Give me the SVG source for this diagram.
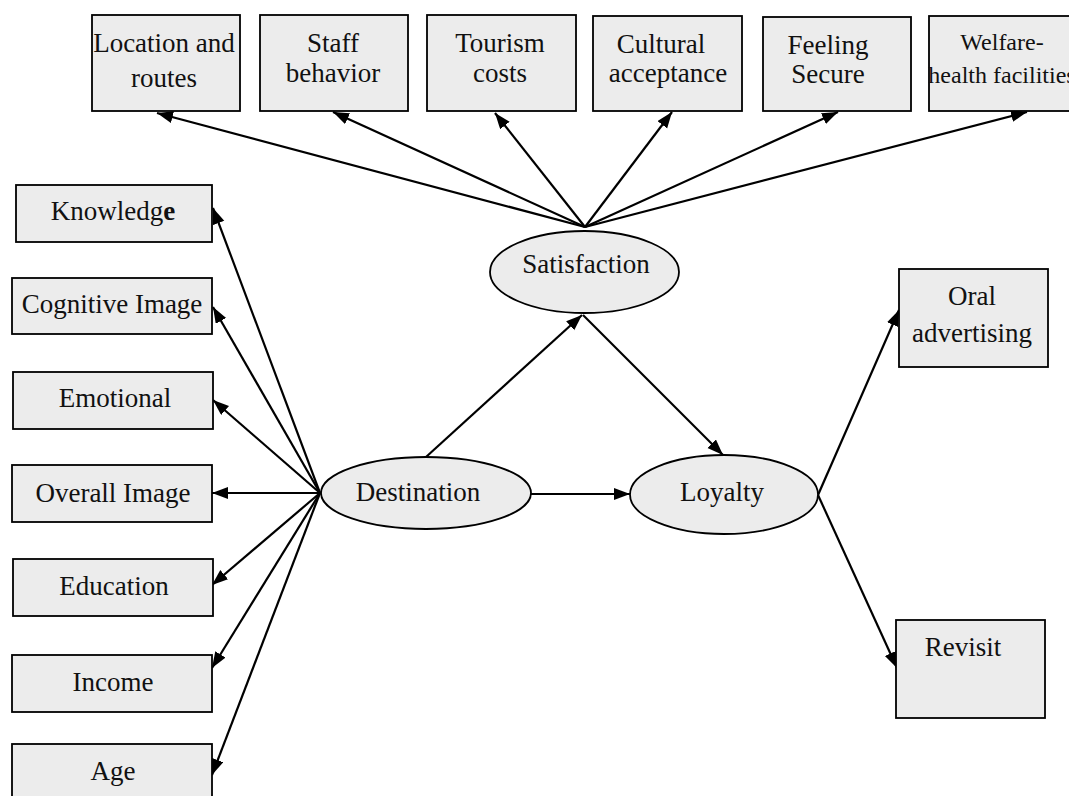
<svg xmlns="http://www.w3.org/2000/svg" width="1069" height="796" viewBox="0 0 1069 796">
<style>
.box{fill:#ececec;stroke:#000;stroke-width:1.8}
.ell{fill:#ececec;stroke:#000;stroke-width:1.8}
.t{font-family:"Liberation Serif","Times New Roman",serif;font-size:27px;fill:#111;text-anchor:middle}
.s{font-size:24px}
.c line{stroke:#000;stroke-width:2.2;marker-end:url(#ah)}
</style>
<defs>
<marker id="ah" markerUnits="userSpaceOnUse" markerWidth="18" markerHeight="14" refX="16" refY="6" orient="auto">
<path d="M0,0 L16,6 L0,12 Z" fill="#000"/>
</marker>
</defs>
<rect width="1069" height="796" fill="#fff"/>
<g class="c" id="connectors">
<line x1="585" y1="227" x2="157" y2="113"/>
<line x1="585" y1="227" x2="333" y2="112"/>
<line x1="585" y1="227" x2="495" y2="113"/>
<line x1="585" y1="227" x2="672" y2="112"/>
<line x1="585" y1="227" x2="838" y2="112"/>
<line x1="585" y1="227" x2="1027" y2="112"/>
<line x1="320" y1="493" x2="213" y2="208"/>
<line x1="320" y1="493" x2="213" y2="307"/>
<line x1="320" y1="493" x2="213" y2="400"/>
<line x1="320" y1="493" x2="212" y2="493"/>
<line x1="320" y1="493" x2="212" y2="585"/>
<line x1="320" y1="493" x2="212" y2="668"/>
<line x1="320" y1="493" x2="212" y2="775"/>
<line x1="426" y1="457" x2="582" y2="315"/>
<line x1="583" y1="315" x2="723" y2="455"/>
<line x1="531" y1="494" x2="630" y2="494"/>
<line x1="818" y1="495" x2="899" y2="310"/>
<line x1="818" y1="495" x2="897" y2="668"/>
</g>
<g id="location"><rect class="box" x="92" y="15" width="148" height="96"/><text class="t" x="164" y="52">Location and</text><text class="t" x="164" y="87">routes</text></g>
<g id="staff"><rect class="box" x="260" y="15" width="148" height="96"/><text class="t" x="333" y="52">Staff</text><text class="t" x="333" y="82">behavior</text></g>
<g id="tourism"><rect class="box" x="427" y="15" width="149" height="96"/><text class="t" x="500" y="52">Tourism</text><text class="t" x="500" y="82">costs</text></g>
<g id="cultural"><rect class="box" x="593" y="16" width="149" height="95"/><text class="t" x="661" y="53">Cultural</text><text class="t" x="668" y="82">acceptance</text></g>
<g id="feeling"><rect class="box" x="763" y="17" width="148" height="94"/><text class="t" x="828" y="54">Feeling</text><text class="t" x="828" y="83">Secure</text></g>
<g id="welfare"><rect class="box" x="929" y="16" width="150" height="95"/><text class="t s" x="1002" y="50">Welfare-</text><text class="t s" x="1002" y="83">health facilities</text></g>
<g id="knowledge"><rect class="box" x="16" y="185" width="196" height="57"/><text class="t" x="113" y="220">Knowledg<tspan font-weight="bold">e</tspan></text></g>
<g id="cognitive"><rect class="box" x="12" y="278" width="200" height="56"/><text class="t" x="112" y="313">Cognitive Image</text></g>
<g id="emotional"><rect class="box" x="13" y="372" width="200" height="57"/><text class="t" x="115" y="407">Emotional</text></g>
<g id="overall"><rect class="box" x="12" y="465" width="200" height="57"/><text class="t" x="113" y="502">Overall Image</text></g>
<g id="education"><rect class="box" x="13" y="559" width="200" height="57"/><text class="t" x="114" y="595">Education</text></g>
<g id="income"><rect class="box" x="12" y="655" width="200" height="57"/><text class="t" x="113" y="691">Income</text></g>
<g id="age"><rect class="box" x="12" y="744" width="200" height="60"/><text class="t" x="113" y="780">Age</text></g>
<g id="satisfaction"><ellipse class="ell" cx="584.5" cy="272" rx="94.5" ry="41"/><text class="t" x="586" y="273">Satisfaction</text></g>
<g id="destination"><ellipse class="ell" cx="426" cy="493" rx="105" ry="36"/><text class="t" x="418" y="501">Destination</text></g>
<g id="loyalty"><ellipse class="ell" cx="724" cy="494.5" rx="94" ry="39.5"/><text class="t" x="722" y="501">Loyalty</text></g>
<g id="oral"><rect class="box" x="899" y="269" width="149" height="98"/><text class="t" x="972" y="305">Oral</text><text class="t" x="972" y="342">advertising</text></g>
<g id="revisit"><rect class="box" x="896" y="620" width="149" height="98"/><text class="t" x="963" y="656">Revisit</text></g>
</svg>
